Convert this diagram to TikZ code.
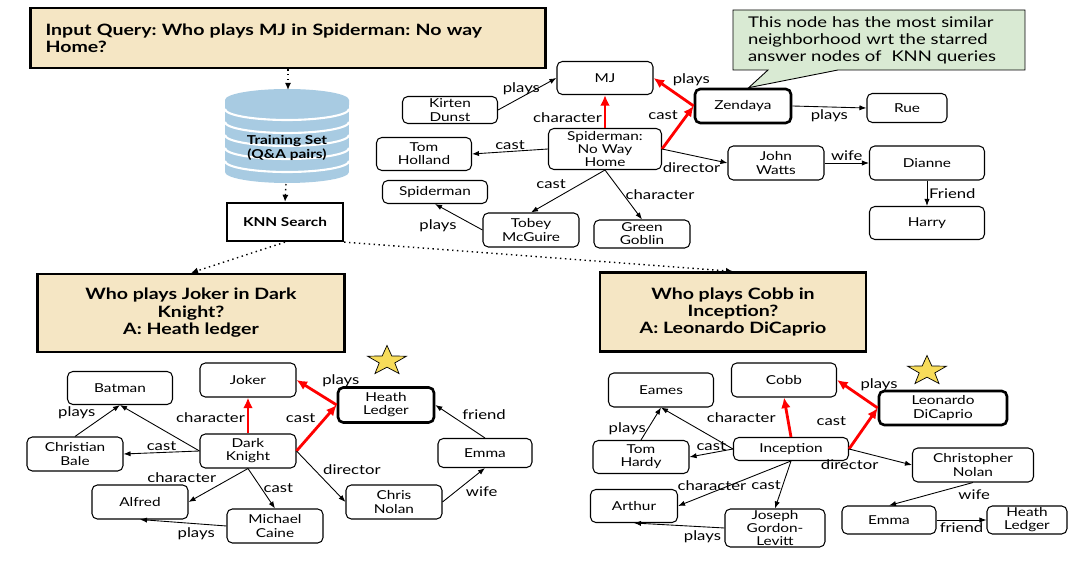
\documentclass[tikz,border=0pt]{standalone}
\usepackage{fontspec}
\setmainfont{Lato}[FakeStretch=1.25]
\frenchspacing
\usepackage{tikz}
\usetikzlibrary{arrows.meta,positioning,shapes.geometric,shapes.callouts}
\definecolor{qbeige}{RGB}{245,230,196}
\definecolor{notegreen}{RGB}{217,234,211}
\definecolor{dbblue}{RGB}{168,203,226}
\definecolor{staryellow}{RGB}{247,220,90}
\newcommand{\entfont}{\fontsize{7}{7.5}\selectfont}
\newcommand{\lblfont}{\fontsize{7.6}{8}\selectfont}
\newcommand{\hdfont}{\bfseries\fontsize{8.9}{9.9}\selectfont}
\newcommand{\notefont}{\fontsize{8.4}{9.6}\selectfont}
\tikzset{
	-{Latex[length=4pt,width=3pt]},
	ent/.style = {rectangle, rounded corners=3pt, draw, line width=0.6pt, align=center, minimum width=1.92cm, minimum height=0.68cm, inner sep=1pt, font=\entfont},
	key/.style = {ent, line width=1.5pt},
	query/.style = {rectangle, draw, line width=1.3pt, fill=qbeige, align=center, font=\hdfont},
	rel/.style = {red, line width=1.6pt, -{Latex[length=6pt,width=5.5pt]}},
	dots/.style = {dotted, line width=0.8pt, -{Latex[length=4pt,width=3.5pt]}},
	lbl/.style = {font=\lblfont, text=black, inner sep=1pt},
	goldstar/.style = {star, star points=5, star point ratio=2.5, draw, line width=0.4pt, fill=staryellow, minimum size=0.62cm, inner sep=0pt, xscale=1.32, transform shape}
}

\begin{document}
\begin{tikzpicture}[x=0.02cm, y=-0.02cm, line width=0.5pt]
    \useasboundingbox (0,0) rectangle (1080,563);

    % query, training set and search
    \node[query, align=left, text width=9.7cm, minimum height=1.2cm, inner xsep=0.3cm] (qin) at (288,38) {Input Query: Who plays MJ in Spiderman: No way\\Home?};
    \fill[dbblue] (225,100) -- (225,172) arc[start angle=180, end angle=360, x radius=1.24cm, y radius=0.22cm] -- (349,100) arc[start angle=0, end angle=180, x radius=1.24cm, y radius=0.22cm] -- cycle;
    \foreach \y in {109,122,135,148,161}
        \draw[-, white, line width=1.2pt] (225,\y) arc[start angle=180, end angle=360, x radius=1.24cm, y radius=0.22cm];
    \node[font=\bfseries\entfont, align=center, inner sep=0pt] (db) at (287,148) {Training Set\\(Q\&A pairs)};
    \coordinate (dbtop) at (288,90);
    \coordinate (dbbot) at (286,184);
    \node[ent, rounded corners=0pt, line width=1.3pt, minimum width=2.32cm, minimum height=0.76cm, font=\bfseries\entfont] (knn) at (285,222) {KNN Search};

    \node[query, minimum width=6.14cm, minimum height=1.56cm] (qdk) at (191,313) {Who plays Joker in Dark\\Knight?\\A: Heath ledger};
    \node[query, minimum width=5.32cm, minimum height=1.58cm] (qinc) at (733,312) {Who plays Cobb in\\Inception?\\A: Leonardo DiCaprio};

    \path (qin.south) edge[dots] (dbtop);
    \path (dbbot) edge[dots] (knn.north);
    \path (knn.south) edge[dots] (qdk.north);
    \path (knn.south east) edge[dots] (qinc.north);

    % graph of the input query
    \node[ent, minimum height=0.66cm] (mj) at (605,78) {MJ};
    \node[ent, minimum width=1.9cm, minimum height=0.54cm] (kd) at (450,110) {Kirten\\Dunst};
    \node[ent, minimum width=2.26cm, minimum height=0.82cm] (snwh) at (605,149) {Spiderman:\\No Way\\Home};
    \node[ent, minimum width=1.9cm, minimum height=0.66cm] (th1) at (424,154) {Tom\\Holland};
    \node[ent, minimum width=2.1cm, minimum height=0.46cm] (spm) at (435,192) {Spiderman};
    \node[ent] (tm) at (531,230) {Tobey\\McGuire};
    \node[ent, minimum height=0.56cm] (gg) at (642,234) {Green\\Goblin};
    \node[key] (zen) at (743,106) {Zendaya};
    \node[ent, minimum width=1.6cm, minimum height=0.58cm] (rue) at (907,108) {Rue};
    \node[ent] (jw) at (776,163) {John\\Watts};
    \node[ent, minimum width=2.3cm] (dia) at (927,163) {Dianne};
    \node[ent, minimum width=2.3cm, minimum height=0.66cm] (har) at (927,223) {Harry};

    \path (kd.east) edge node[lbl, above, pos=.4] {plays} (mj.west);
    \path (snwh.north) edge[rel] node[lbl, left, pos=.3] {character} (mj.south);
    \path (snwh.east) edge[rel] node[lbl, above left, pos=.6] {cast} (zen.west);
    \path (zen.west) edge[rel] node[lbl, above right, pos=.6] {plays} (mj.east);
    \path (zen.east) edge node[lbl, below] {plays} (rue.west);
    \path (snwh.west) edge node[lbl, above] {cast} (th1.east);
    \path (snwh.east) edge node[lbl, below=3pt, pos=.45] {director} (jw.west);
    \path (jw.east) edge node[lbl, above] {wife} (dia.west);
    \path (dia.south) edge node[lbl, right] {Friend} (har.north);
    \path (snwh.south) edge node[lbl, above left] {cast} (tm.north);
    \path (snwh.south) edge node[lbl, right] {character} (gg.north);
    \path (tm.west) edge node[lbl, below left] {plays} (spm.south);

    \node[rectangle callout, draw, line width=0.5pt, fill=notegreen, callout absolute pointer={([xshift=1.1cm]zen.north west)}, callout pointer width=1.4cm, text width=5.24cm, align=left, inner xsep=0.3cm, minimum height=1.2cm, font=\notefont] (note) at (879,40) {This node has the most similar\\neighborhood wrt the starred\\answer nodes of~ KNN queries};

    % graph of the first neighbour
    \node[ent] (jok) at (248,380) {Joker};
    \node[ent, minimum width=2.1cm, minimum height=0.66cm] (bat) at (120,388) {Batman};
    \node[ent] (cb) at (75,454) {Christian\\Bale};
    \node[ent] (dk) at (248,451) {Dark\\Knight};
    \node[ent] (alf) at (140,502) {Alfred};
    \node[ent] (mc) at (275,526) {Michael\\Caine};
    \node[key, minimum height=0.7cm] (hl1) at (386,405) {Heath\\Ledger};
    \node[ent, minimum width=1.88cm, minimum height=0.58cm] (emm1) at (485,453) {Emma};
    \node[ent] (cn1) at (394,502) {Chris\\Nolan};
    \node[goldstar] (st1) at (387,361) {};

    \path (dk.north) edge[rel] node[lbl, left, pos=.45] {character} (jok.south);
    \path (dk.east) edge[rel] node[lbl, above left, pos=.55] {cast} (hl1.west);
    \path (hl1.west) edge[rel] node[lbl, above right=2pt] {plays} (jok.east);
    \path (dk.west) edge (bat.south);
    \path (cb.north) edge node[lbl, above left] {plays} (bat.south);
    \path (dk.west) edge node[lbl, above] {cast} (cb.east);
    \path (dk.south) edge node[lbl, above left] {character} (alf.east);
    \path (dk.south) edge node[lbl, right] {cast} (mc.north);
    \path (mc.west) edge node[lbl, below=1pt, pos=.35] {plays} (alf.south);
    \path (dk.east) edge node[lbl, above right] {director} (cn1.west);
    \path (cn1.east) edge node[lbl, below right] {wife} (emm1.south);
    \path (emm1.north) edge node[lbl, above right] {friend} (hl1.east);

    % graph of the second neighbour
    \node[ent, minimum width=2.1cm] (cobb) at (784,380) {Cobb};
    \node[ent, minimum width=2.1cm] (eam) at (661,390) {Eames};
    \node[ent, minimum height=0.66cm] (thd) at (641,457) {Tom\\Hardy};
    \node[ent, minimum width=2.3cm, minimum height=0.46cm] (inc) at (791,449) {Inception};
    \node[key, minimum width=2.56cm] (leo) at (943,408) {Leonardo\\DiCaprio};
    \node[ent, minimum width=2.42cm] (cn2) at (973,465) {Christopher\\Nolan};
    \node[ent, minimum width=1.74cm, minimum height=0.66cm] (art) at (634,506) {Arthur};
    \node[ent, minimum width=2cm, minimum height=0.76cm, inner sep=0pt] (jgl) at (775,528) {Joseph\\Gordon-\\Levitt};
    \node[ent, minimum width=1.88cm, minimum height=0.56cm] (emm2) at (889,520) {Emma};
    \node[ent, minimum width=1.6cm, minimum height=0.56cm] (hl2) at (1027,520) {Heath\\Ledger};
    \node[goldstar] (st2) at (927,371) {};

    \path (inc.north) edge[rel] node[lbl, left=5pt] {character} (cobb.south);
    \path (inc.east) edge[rel] node[lbl, above left=0pt and 8pt] {cast} (leo.west);
    \path (leo.west) edge[rel] node[lbl, above right] {plays} (cobb.east);
    \path (inc.west) edge (eam.south);
    \path (thd.north) edge node[lbl, left, pos=.35] {plays} (eam.south);
    \path (inc.west) edge node[lbl, above] {cast} (thd.east);
    \path (inc.south) edge node[lbl, above, pos=.7] {character} (art.east);
    \path (inc.south) edge node[lbl, left, pos=.5] {cast} (jgl.north);
    \path (jgl.west) edge node[lbl, below right=2pt] {plays} (art.south);
    \path (inc.east) edge node[lbl, below left] {director} (cn2.west);
    \path (cn2.south) edge node[lbl, below right, pos=.2] {wife} (emm2.north);
    \path (emm2.east) edge node[lbl, below] {friend} (hl2.west);

\end{tikzpicture}
\end{document}
